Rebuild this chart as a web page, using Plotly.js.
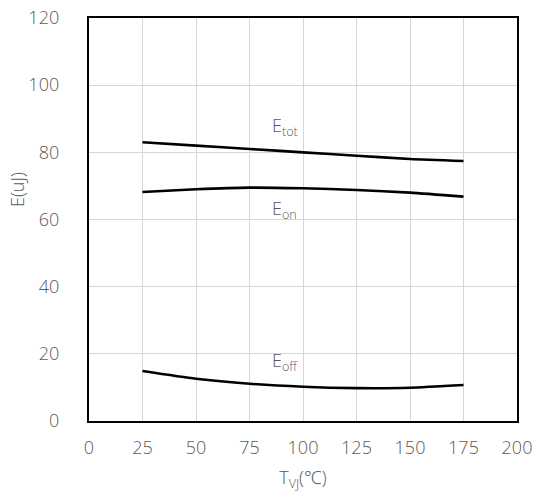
<!DOCTYPE html>
<html>
<head>
<meta charset="utf-8">
<script src="https://cdn.plot.ly/plotly-3.0.1.min.js"></script>
<style>html,body{margin:0;padding:0;background:#fff;}#chart{width:535px;height:495px;}</style>
</head>
<body>
<div id="chart"></div>
<script>
// Switching energy vs. junction temperature
const tvj = [25, 50, 75, 100, 125, 150, 175];
const eTot = [83.0, 82.0, 81.0, 80.0, 79.0, 78.0, 77.4];
const eOn = [68.2, 69.0, 69.5, 69.3, 68.8, 68.0, 66.8];
const eOff = [14.9, 12.6, 11.1, 10.2, 9.8, 9.9, 10.7];
const xTicks = [0, 25, 50, 75, 100, 125, 150, 175, 200];
const yTicks = [0, 20, 40, 60, 80, 100, 120];

const textFont = {family: 'Open Sans, Noto Sans, sans-serif', size: 18, color: '#595959', weight: 300};
const lineStyle = {color: '#000', width: 2.6, shape: 'spline', smoothing: 0.6};

const traces = [
  {x: tvj, y: eTot, name: 'Etot', mode: 'lines', line: lineStyle},
  {x: tvj, y: eOn, name: 'Eon', mode: 'lines', line: lineStyle},
  {x: tvj, y: eOff, name: 'Eoff', mode: 'lines', line: lineStyle}
];

const layout = {
  width: 535, height: 495,
  margin: {l: 89, r: 18, t: 18, b: 74},
  paper_bgcolor: '#fff', plot_bgcolor: '#fff',
  showlegend: false,
  font: textFont,
  xaxis: {
    range: [0, 200], tickvals: xTicks, ticktext: xTicks.map(String),
    showgrid: true, gridcolor: '#d6d6d6', gridwidth: 1,
    showline: true, linecolor: '#000', linewidth: 2.2, mirror: true,
    zeroline: false, ticks: '', ticklen: 0, ticklabelstandoff: 9,
    tickfont: textFont,
    title: {text: 'T<sub>VJ</sub>(℃)', font: textFont, standoff: 14}
  },
  yaxis: {
    range: [0, 120], tickvals: yTicks, ticktext: yTicks.map(String),
    showgrid: true, gridcolor: '#d6d6d6', gridwidth: 1,
    showline: true, linecolor: '#000', linewidth: 2.2, mirror: true,
    zeroline: false, ticks: '', ticklen: 0, ticklabelstandoff: 24,
    tickfont: textFont
  },
  annotations: [
    {xref: 'paper', yref: 'paper', x: -0.1665, y: 0.575, text: 'E(uJ)', textangle: -90,
     showarrow: false, xanchor: 'center', yanchor: 'middle', font: textFont},
    {x: 91.5, y: 87.8, text: 'E<sub>tot</sub>', showarrow: false, xanchor: 'center', font: textFont},
    {x: 91.5, y: 63.0, text: 'E<sub>on</sub>', showarrow: false, xanchor: 'center', font: textFont},
    {x: 91.5, y: 17.8, text: 'E<sub>off</sub>', showarrow: false, xanchor: 'center', font: textFont}
  ]
};

Plotly.newPlot('chart', traces, layout, {displayModeBar: false, staticPlot: true});
</script>
</body>
</html>
